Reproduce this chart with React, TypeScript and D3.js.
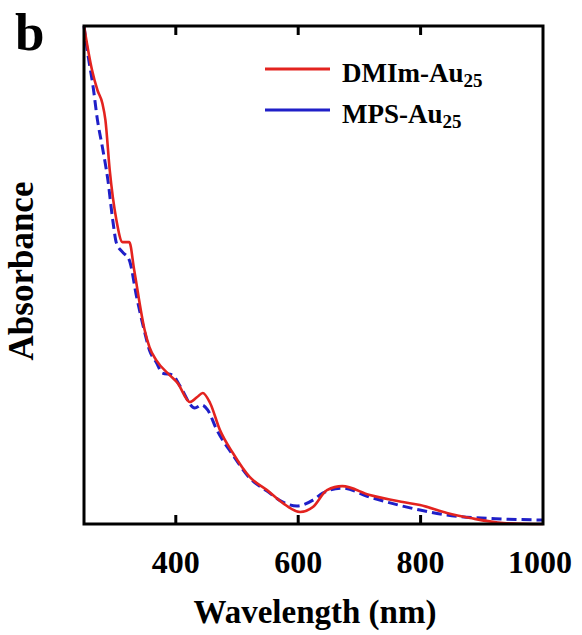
import React from "react";
import * as d3 from "d3";

const dmimWl = [250, 263, 272, 280, 285, 292, 303, 313, 324, 332, 349, 357, 368, 390, 403, 423, 435, 444, 456, 472, 493, 521, 549, 575, 603, 624, 647, 672, 717, 771, 799, 843, 881, 935, 1000];
const dmimAbs = [1.0, 0.912, 0.871, 0.845, 0.811, 0.711, 0.61, 0.566, 0.566, 0.51, 0.39, 0.355, 0.329, 0.299, 0.283, 0.245, 0.255, 0.263, 0.243, 0.189, 0.143, 0.094, 0.068, 0.042, 0.024, 0.034, 0.068, 0.076, 0.058, 0.044, 0.038, 0.022, 0.012, 0.002, 0.0];

const mpsWl = [250, 256, 265, 272, 280, 289, 297, 303, 313, 324, 336, 349, 357, 368, 378, 395, 406, 431, 442, 452, 467, 493, 521, 549, 575, 598, 624, 640, 672, 717, 799, 843, 935, 1000];
const mpsAbs = [1.0, 0.946, 0.877, 0.811, 0.757, 0.691, 0.61, 0.564, 0.546, 0.53, 0.456, 0.386, 0.349, 0.325, 0.303, 0.299, 0.279, 0.233, 0.239, 0.229, 0.189, 0.139, 0.092, 0.066, 0.044, 0.036, 0.048, 0.062, 0.072, 0.054, 0.028, 0.018, 0.01, 0.008];

const xTicks = [400, 600, 800, 1000];
const seriesNames = ["DMIm-Au", "MPS-Au"];
const subscript = "25";

const W = 582;
const H = 635;
const left = 84;
const right = 543;
const top = 26;
const bottom = 524;
const font = "'Liberation Serif', 'Times New Roman', serif";

export default function App() {
  const x = d3.scaleLinear().domain([250, 1000]).range([left, right]);
  const y = d3.scaleLinear().domain([0, 1]).range([bottom, top]);
  const line = d3
    .line<[number, number]>()
    .x((d) => x(d[0]))
    .y((d) => y(d[1]))
    .curve(d3.curveMonotoneX);
  const red = line(dmimWl.map((w, i) => [w, dmimAbs[i]]));
  const blue = line(mpsWl.map((w, i) => [w, mpsAbs[i]]));

  return (
    <svg width={W} height={H} style={{ position: "absolute", left: 0, top: 0, background: "#fff" }}>
      <text x={15} y={50} fontFamily={font} fontWeight="bold" fontSize={53}>b</text>
      <path d={blue || ""} fill="none" stroke="#1f1fc8" strokeWidth={3} strokeDasharray="10,5" />
      <path d={red || ""} fill="none" stroke="#e3231f" strokeWidth={2.6} />
      {xTicks.filter((t) => t < 1000).map((t) => (
        <g key={t}>
          <line x1={x(t)} x2={x(t)} y1={bottom} y2={bottom - 9} stroke="#000" strokeWidth={3} />
          <line x1={x(t)} x2={x(t)} y1={top} y2={top + 9} stroke="#000" strokeWidth={3} />
        </g>
      ))}
      <rect x={left} y={top} width={right - left} height={bottom - top} fill="none" stroke="#000" strokeWidth={3} />
      {xTicks.map((t) => (
        <text key={t} x={t === 1000 ? x(t) - 3 : x(t)} y={573} textAnchor="middle" fontFamily={font} fontWeight="bold" fontSize={32}>
          {t}
        </text>
      ))}
      <text x={315} y={623} textAnchor="middle" fontFamily={font} fontWeight="bold" fontSize={33}>
        Wavelength (nm)
      </text>
      <text
        transform={`translate(33,271) rotate(-90)`}
        textAnchor="middle"
        fontFamily={font}
        fontWeight="bold"
        fontSize={35}
      >
        Absorbance
      </text>
      <line x1={265} x2={330} y1={69} y2={69} stroke="#e3231f" strokeWidth={3} />
      <line x1={265} x2={330} y1={110} y2={110} stroke="#1f1fc8" strokeWidth={3} />
      <text x={342} y={82} fontFamily={font} fontWeight="bold" fontSize={27}>
        {seriesNames[0]}
        <tspan fontSize={19} dy={5}>{subscript}</tspan>
      </text>
      <text x={342} y={123} fontFamily={font} fontWeight="bold" fontSize={27}>
        {seriesNames[1]}
        <tspan fontSize={19} dy={5}>{subscript}</tspan>
      </text>
    </svg>
  );
}
